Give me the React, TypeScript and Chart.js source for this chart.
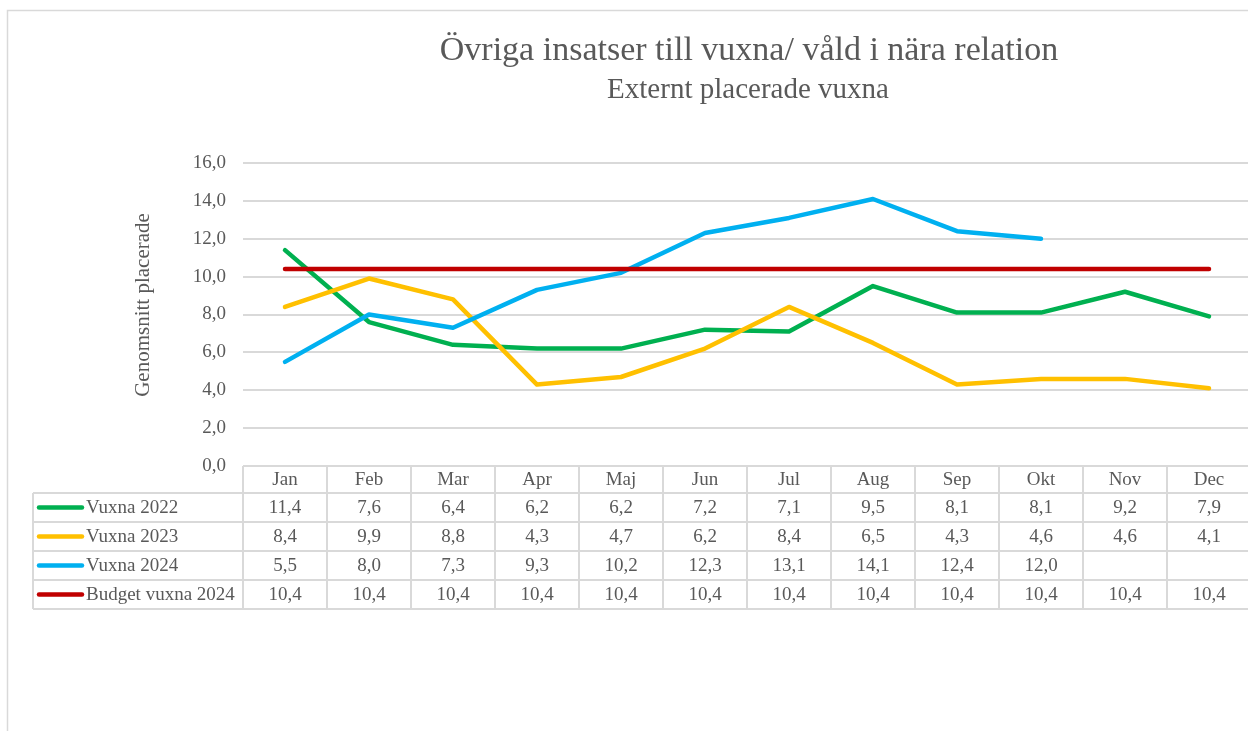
import React, { useEffect, useRef } from "react";
import { Chart, registerables } from "chart.js";

Chart.register(...registerables);

const months = ["Jan", "Feb", "Mar", "Apr", "Maj", "Jun", "Jul", "Aug", "Sep", "Okt", "Nov", "Dec"];
const vuxna2022 = [11.4, 7.6, 6.4, 6.2, 6.2, 7.2, 7.1, 9.5, 8.1, 8.1, 9.2, 7.9];
const vuxna2023 = [8.4, 9.9, 8.8, 4.3, 4.7, 6.2, 8.4, 6.5, 4.3, 4.6, 4.6, 4.1];
const vuxna2024: (number | null)[] = [5.5, 8.0, 7.3, 9.3, 10.2, 12.3, 13.1, 14.1, 12.4, 12.0, null, null];
const budgetVuxna2024 = [10.4, 10.4, 10.4, 10.4, 10.4, 10.4, 10.4, 10.4, 10.4, 10.4, 10.4, 10.4];

const seriesNames = ["Vuxna 2022", "Vuxna 2023", "Vuxna 2024", "Budget vuxna 2024"];
const seriesColors = ["#00b050", "#ffc000", "#00b0f0", "#c00000"];

const titleText = "Övriga insatser till vuxna/ våld i nära relation";
const subtitleText = "Externt placerade vuxna";
const yAxisTitle = "Genomsnitt placerade";
const yMin = 0;
const yMax = 16;
const yStep = 2;

const FONT = "'Liberation Serif', 'Times New Roman', serif";
const TEXT = "#595959";
const GRID = "#d9d9d9";

const fmt = (v: number) => v.toFixed(1).replace(".", ",");

const W = 1262;
const H = 731;

const decorPlugin = {
  id: "decor",
  beforeDraw(chart: any) {
    const ctx = chart.ctx;
    ctx.save();
    ctx.fillStyle = "#ffffff";
    ctx.fillRect(0, 0, chart.width, chart.height);
    ctx.strokeStyle = "#d9d9d9";
    ctx.lineWidth = 1.5;
    ctx.beginPath();
    ctx.moveTo(7.5, chart.height);
    ctx.lineTo(7.5, 10.5);
    ctx.lineTo(chart.width, 10.5);
    ctx.stroke();
    ctx.restore();
  },
  afterDraw(chart: any) {
    const ctx = chart.ctx;
    const area = chart.chartArea;
    const cx = (area.left + area.right) / 2;
    ctx.save();
    ctx.fillStyle = TEXT;
    ctx.textAlign = "center";
    ctx.textBaseline = "middle";
    ctx.font = `34px ${FONT}`;
    ctx.fillText(titleText, cx + 2, 51);
    ctx.font = `29px ${FONT}`;
    ctx.fillText(subtitleText, cx + 1, 90);

    // y axis title
    ctx.save();
    ctx.translate(143, 305);
    ctx.rotate(-Math.PI / 2);
    ctx.font = `21px ${FONT}`;
    ctx.fillText(yAxisTitle, 0, 0);
    ctx.restore();

    // data table
    const xs = chart.scales.x;
    const colW = (area.right - area.left) / months.length;
    const top = area.bottom;
    const headH = 27;
    const rowH = 29;
    const leftX = 33;
    const nRows = seriesNames.length;
    const bottom = top + headH + rowH * nRows;

    ctx.strokeStyle = GRID;
    ctx.lineWidth = 2;
    ctx.beginPath();
    ctx.moveTo(area.left, top);
    ctx.lineTo(area.right, top);
    for (let r = 0; r <= nRows; r++) {
      const y = top + headH + rowH * r;
      ctx.moveTo(leftX, y);
      ctx.lineTo(area.right, y);
    }
    ctx.moveTo(leftX, top + headH);
    ctx.lineTo(leftX, bottom);
    for (let c = 0; c <= months.length; c++) {
      const x = area.left + colW * c;
      ctx.moveTo(x, top);
      ctx.lineTo(x, bottom);
    }
    ctx.stroke();

    ctx.font = `19px ${FONT}`;
    ctx.fillStyle = TEXT;
    ctx.textAlign = "center";
    ctx.textBaseline = "middle";
    months.forEach((m, i) => {
      ctx.fillText(m, xs.getPixelForValue(i), top + headH / 2 + 1);
    });

    chart.data.datasets.forEach((ds: any, r: number) => {
      const yc = top + headH + rowH * r + rowH / 2 + 1;
      ctx.strokeStyle = seriesColors[r];
      ctx.lineWidth = 4.5;
      ctx.lineCap = "round";
      ctx.beginPath();
      ctx.moveTo(39, yc - 1);
      ctx.lineTo(82, yc - 1);
      ctx.stroke();
      ctx.fillStyle = TEXT;
      ctx.textAlign = "left";
      ctx.fillText(seriesNames[r], 86, yc);
      ctx.textAlign = "center";
      ds.data.forEach((v: number | null, i: number) => {
        if (v === null || v === undefined) return;
        ctx.fillText(fmt(v), xs.getPixelForValue(i), yc);
      });
    });
    ctx.restore();
  },
};

export default function App() {
  const ref = useRef<HTMLCanvasElement | null>(null);

  useEffect(() => {
    if (!ref.current) return;
    const mk = (label: string, data: (number | null)[], color: string, order: number) => ({
      label,
      data,
      borderColor: color,
      backgroundColor: color,
      borderWidth: 4.5,
      pointRadius: 0,
      pointHoverRadius: 0,
      tension: 0,
      borderCapStyle: "round" as const,
      borderJoinStyle: "round" as const,
      spanGaps: false,
      order,
    });
    const chart = new Chart(ref.current, {
      type: "line",
      data: {
        labels: months,
        datasets: [
          mk(seriesNames[0], vuxna2022, seriesColors[0], 4),
          mk(seriesNames[1], vuxna2023, seriesColors[1], 3),
          mk(seriesNames[2], vuxna2024, seriesColors[2], 2),
          mk(seriesNames[3], budgetVuxna2024, seriesColors[3], 1),
        ],
      },
      options: {
        animation: false,
        responsive: false,
        devicePixelRatio: 1,
        layout: { padding: { top: 163, bottom: H - 466, left: 0, right: W - 1251 } },
        plugins: {
          legend: { display: false },
          tooltip: { enabled: false },
          title: { display: false },
        },
        scales: {
          x: {
            type: "category",
            display: false,
            offset: true,
          },
          y: {
            min: yMin,
            max: yMax,
            afterFit(scale: any) {
              scale.width = 243;
            },
            border: { display: false },
            grid: { color: GRID, lineWidth: 2, drawTicks: false },
            ticks: {
              stepSize: yStep,
              padding: 17,
              color: TEXT,
              font: { family: FONT, size: 19 },
              callback: (v: any) => fmt(Number(v)),
            },
            title: { display: false },
          },
        },
      },
      plugins: [decorPlugin],
    });
    return () => chart.destroy();
  }, []);

  return (
    <div style={{ position: "fixed", left: 0, top: 0, width: 1248, height: 731, overflow: "hidden", background: "#fff" }}>
      <canvas ref={ref} width={W} height={H} style={{ display: "block" }} />
    </div>
  );
}
